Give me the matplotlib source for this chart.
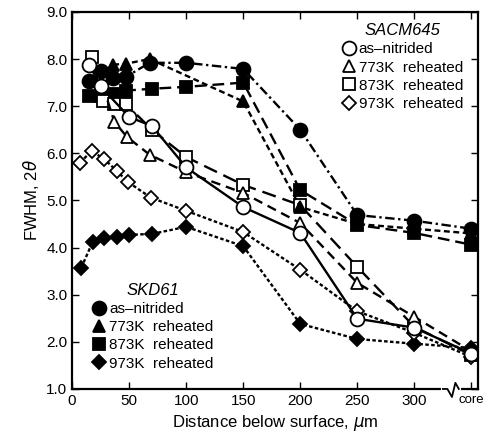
import matplotlib
matplotlib.use("Agg")
import matplotlib.pyplot as plt
from matplotlib.lines import Line2D

plt.rcParams['font.family'] = ['Liberation Sans', 'DejaVu Sans']

# x = distance below surface (um); "core" drawn at 350
CORE = 350

# SACM645 (open markers)
sacm_asn_x = [15, 25, 50, 70, 100, 150, 200, 250, 300, CORE]
sacm_asn_y = [7.88, 7.42, 6.77, 6.58, 5.70, 4.86, 4.31, 2.49, 2.30, 1.75]
sacm_773_x = [27, 37, 48, 68, 100, 150, 200, 250, 300, CORE]
sacm_773_y = [7.43, 6.67, 6.35, 5.97, 5.60, 5.16, 4.52, 3.25, 2.53, 1.80]
sacm_873_x = [17, 27, 37, 47, 70, 100, 150, 200, 250, 300, CORE]
sacm_873_y = [8.05, 7.10, 7.05, 7.05, 6.50, 5.92, 5.33, 4.90, 3.59, 2.32, 1.72]
sacm_973_x = [7, 17, 28, 39, 49, 69, 100, 150, 200, 250, 300, CORE]
sacm_973_y = [5.80, 6.05, 5.88, 5.63, 5.39, 5.06, 4.78, 4.33, 3.53, 2.65, 2.19, 1.68]

# SKD61 (filled markers)
skd_asn_x = [15, 25, 36, 47, 68, 100, 150, 200, 250, 300, CORE]
skd_asn_y = [7.54, 7.75, 7.60, 7.62, 7.92, 7.92, 7.79, 6.50, 4.69, 4.57, 4.40]
skd_773_x = [36, 47, 68, 150, 200, 250, 300, CORE]
skd_773_y = [7.88, 7.90, 8.00, 7.10, 4.86, 4.50, 4.40, 4.30]
skd_873_x = [15, 25, 36, 47, 70, 100, 150, 200, 250, 300, CORE]
skd_873_y = [7.22, 7.22, 7.26, 7.33, 7.37, 7.41, 7.50, 5.22, 4.48, 4.31, 4.06]
skd_973_x = [8, 18, 28, 39, 50, 70, 100, 150, 200, 250, 300, CORE]
skd_973_y = [3.57, 4.12, 4.20, 4.23, 4.27, 4.29, 4.44, 4.03, 2.38, 2.06, 1.96, 1.87]

xticks = [0, 50, 100, 150, 200, 250, 300, CORE]
xticklabels = ['0', '50', '100', '150', '200', '250', '300', 'core']
yticks = [1.0, 2.0, 3.0, 4.0, 5.0, 6.0, 7.0, 8.0, 9.0]

fig = plt.figure(figsize=(4.84, 4.41), dpi=100)
ax = fig.add_axes([0.149, 0.118, 0.839, 0.855])

ms = 9
lw = 1.7
series = [
    (skd_973_x, skd_973_y, 'D', 'black', (0, (1.5, 1)), 7.5),
    (sacm_973_x, sacm_973_y, 'D', 'white', (0, (1.5, 1)), 7.5),
    (skd_873_x, skd_873_y, 's', 'black', (0, (5, 2.5)), ms),
    (sacm_873_x, sacm_873_y, 's', 'white', (0, (6, 3)), ms),
    (skd_773_x, skd_773_y, '^', 'black', (0, (2.5, 1.5)), ms),
    (sacm_773_x, sacm_773_y, '^', 'white', (0, (4, 2.5)), ms),
    (skd_asn_x, skd_asn_y, 'o', 'black', (0, (4, 1.5, 1, 1.5)), ms + 1),
    (sacm_asn_x, sacm_asn_y, 'o', 'white', '-', ms + 1),
]
for x, y, m, fc, ls, s in series:
    ax.plot(x, y, color='black', lw=lw, ls=ls, marker=m, ms=s,
            mfc=fc, mec='black', mew=1.3)

ax.set_xlim(0, 356)
ax.set_ylim(1.0, 9.0)
ax.set_xticks(xticks)
ax.set_xticklabels(xticklabels)
ax.set_yticks(yticks)
ax.set_yticklabels(['%.1f' % v for v in yticks])
ax.tick_params(direction='in', top=True, right=True, length=5, width=1,
               labelsize=11)
for lab in ax.get_xticklabels():
    if lab.get_text() == 'core':
        lab.set_fontsize(9.5)
for sp in ax.spines.values():
    sp.set_linewidth(1.6)

ax.set_xlabel('Distance below surface, $\\mu$m', fontsize=12)
ax.set_ylabel('FWHM, 2$\\theta$', fontsize=12)

# axis break on x axis
ax.plot([325, 339], [1.0, 1.0], color='white', lw=3, clip_on=False, zorder=5)
ax.plot([325, 329, 333, 336, 339], [1.0, 1.0, 0.83, 1.13, 1.0],
        color='black', lw=1.3, clip_on=False, zorder=6)

def handles(fc):
    out = []
    for m, s in [('o', 10), ('^', 9), ('s', 9), ('D', 7.5)]:
        out.append(Line2D([], [], ls='none', marker=m, ms=s, mfc=fc,
                          mec='black', mew=1.3))
    return out

labels = ['as\u2013nitrided', '773K  reheated', '873K  reheated', '973K  reheated']

leg1 = ax.legend(handles('white'), labels, title='SACM645', loc='upper right',
                 bbox_to_anchor=(0.985, 0.995), frameon=False, fontsize=11,
                 handlelength=0.8, handletextpad=0.25, labelspacing=0.28,
                 borderaxespad=0.2)
leg1.get_title().set_fontstyle('italic')
leg1.get_title().set_fontsize(12)
ax.add_artist(leg1)

leg2 = ax.legend(handles('black'), labels, title='SKD61', loc='lower left',
                 bbox_to_anchor=(0.025, 0.02), frameon=False, fontsize=11,
                 handlelength=0.8, handletextpad=0.25, labelspacing=0.28,
                 borderaxespad=0.3)
leg2.get_title().set_fontstyle('italic')
leg2.get_title().set_fontsize(12)

fig.savefig('out.png', dpi=100)
